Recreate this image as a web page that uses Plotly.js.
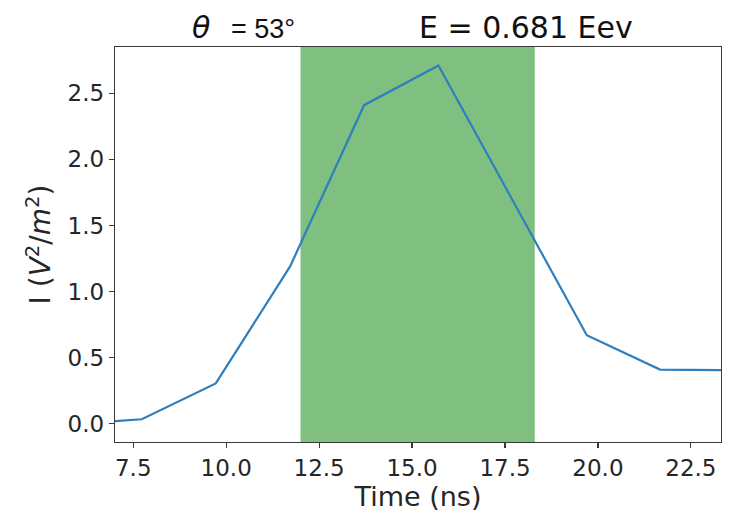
<!DOCTYPE html>
<html>
<head>
<meta charset="utf-8">
<script src="https://cdn.plot.ly/plotly-3.0.1.min.js"></script>
<style>html,body{margin:0;padding:0;background:#fff;}#chart{width:731px;height:519px;}</style>
</head>
<body>
<div id="chart"></div>
<script>
// Data
const timeNs = [7.0, 7.73, 9.72, 11.72, 13.71, 15.71, 19.70, 21.67, 23.31];
const intensity = [0.02, 0.034, 0.305, 1.19, 2.41, 2.71, 0.67, 0.41, 0.405];
const windowStart = 12.0;
const windowEnd = 18.3;
const xTicks = [7.5, 10.0, 12.5, 15.0, 17.5, 20.0, 22.5];
const xTickText = ["7.5", "10.0", "12.5", "15.0", "17.5", "20.0", "22.5"];
const yTicks = [0.0, 0.5, 1.0, 1.5, 2.0, 2.5];
const yTickText = ["0.0", "0.5", "1.0", "1.5", "2.0", "2.5"];
const thetaText = "53°";
const energyText = "E = 0.681 Eev";

const font = "DejaVu Sans, sans-serif";
const trace = {
  x: timeNs, y: intensity, type: "scatter", mode: "lines",
  line: {color: "#2f7fbf", width: 2.2}, hoverinfo: "skip"
};
const axisCommon = {
  showline: true, mirror: true, linecolor: "#3a3a3a", linewidth: 1.3,
  ticks: "outside", ticklen: 5, tickwidth: 1.2, tickcolor: "#3a3a3a",
  showgrid: false, zeroline: false,
  tickfont: {family: font, size: 23, color: "#262626"}
};
const layout = {
  width: 731, height: 519,
  margin: {l: 115, r: 10, t: 47, b: 77},
  paper_bgcolor: "#fff", plot_bgcolor: "#fff",
  showlegend: false,
  xaxis: Object.assign({}, axisCommon, {
    range: [7.01, 23.31], tickvals: xTicks, ticktext: xTickText,
    title: {text: "Time (ns)", font: {family: font, size: 27, color: "#262626"}, standoff: 7}
  }),
  yaxis: Object.assign({}, axisCommon, {
    range: [-0.138, 2.85], tickvals: yTicks, ticktext: yTickText,
    title: {text: "I (<i>V</i><sup>2</sup>/<i>m</i><sup>2</sup>)", font: {family: font, size: 28, color: "#262626"}, standoff: 8}
  }),
  shapes: [{
    type: "rect", xref: "x", yref: "paper", x0: windowStart, x1: windowEnd, y0: 0, y1: 1,
    fillcolor: "rgb(127,191,127)", line: {width: 0}, layer: "below"
  }],
  annotations: [
    {xref: "paper", yref: "paper", x: 0.142, y: 1.05, xanchor: "center", yanchor: "middle",
     text: "<i>θ</i>", showarrow: false, font: {family: font, size: 30, color: "#111"}},
    {xref: "paper", yref: "paper", x: 0.188, y: 1.045, xanchor: "left", yanchor: "middle",
     text: "= " + thetaText, showarrow: false, font: {family: "Liberation Sans, Arial, sans-serif", size: 27, color: "#111"}},
    {xref: "paper", yref: "paper", x: 0.679, y: 1.05, xanchor: "center", yanchor: "middle",
     text: energyText, showarrow: false, font: {family: font, size: 30, color: "#111"}}
  ]
};
Plotly.newPlot("chart", [trace], layout, {displayModeBar: false, staticPlot: true});
</script>
</body>
</html>
